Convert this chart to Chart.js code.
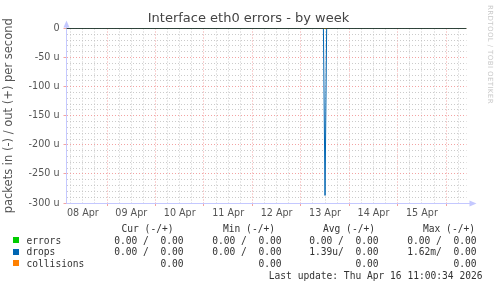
<!DOCTYPE html>
<html>
<head>
<meta charset="utf-8">
<script src="https://cdn.jsdelivr.net/npm/chart.js@4/dist/chart.umd.min.js"></script>
<style>
html, body { margin: 0; padding: 0; background: #fff; }
#wrap { position: relative; width: 497px; height: 288px; overflow: hidden; font-family: "DejaVu Sans", sans-serif; }
#chart { position: absolute; left: 0; top: 0; }
.title { position: absolute; left: 0; top: 10px; width: 497px; text-align: center; font-size: 13px; color: #444; }
.brand { position: absolute; left: 486px; top: 5px; writing-mode: vertical-rl; font-size: 7px; color: #c8c8c8; letter-spacing: 0.4px; }
.leg { position: absolute; font-family: "DejaVu Sans Mono", monospace; font-size: 9.6px; color: #333; white-space: pre; line-height: 11px; }
.sq { position: absolute; width: 6px; height: 6px; }
</style>
</head>
<body>
<div id="wrap">
  <canvas id="chart" width="497" height="288"></canvas>
  <div class="title">Interface eth0 errors - by week</div>
  <div class="brand">RRDTOOL / TOBI OETIKER</div>
</div>
<script>
// hours since 08 Apr 00:00
const xMin = 3.9;
const xMax = 202.1;
const dayLabels = ['08 Apr', '09 Apr', '10 Apr', '11 Apr', '12 Apr', '13 Apr', '14 Apr', '15 Apr'];

// values in micro packets per second (u)
const flatTimes = [3.9, 202.1];
const flatValues = [0, 0];
const dropsTimes = [3.9, 131.2, 132.0, 132.8, 202.1];
const dropsInValues = [0, 0, -287, 0, 0];

// legend table
const legendNames = ['errors', 'drops', 'collisions'];
const legendColors = ['#00cc00', '#0066b3', '#ff8000'];
const colHeaders = ['Cur (-/+)', 'Min (-/+)', 'Avg (-/+)', 'Max (-/+)'];
const curVals = ['0.00 /  0.00', '0.00 /  0.00', '0.00'];
const minVals = ['0.00 /  0.00', '0.00 /  0.00', '0.00'];
const avgVals = ['0.00 /  0.00', '1.39u/  0.00', '0.00'];
const maxVals = ['0.00 /  0.00', '1.62m/  0.00', '0.00'];
const lastUpdate = 'Last update: Thu Apr 16 11:00:34 2026';

const AXIS = 'rgb(196,200,255)';
const MAJOR = 'rgba(240,140,140,0.8)';
const MINOR = 'rgba(190,190,190,0.8)';

const pts = (xs, ys) => xs.map((x, i) => ({ x: x, y: ys[i] }));

const lineDs = (label, color, data) => ({
    label: label,
    data: data,
    borderColor: color,
    borderWidth: 1,
    pointRadius: 0,
    tension: 0,
    fill: false
});

const axisArrows = {
    id: 'axisArrows',
    beforeDatasetsDraw(chart) {
        const { ctx, chartArea: a } = chart;
        const lx = a.left;
        const by = a.bottom + 0.5;
        ctx.save();
        ctx.strokeStyle = AXIS;
        ctx.fillStyle = AXIS;
        ctx.lineWidth = 1;
        ctx.beginPath();
        ctx.moveTo(lx, by);
        ctx.lineTo(lx, a.top - 2);
        ctx.moveTo(lx, by);
        ctx.lineTo(a.right + 4, by);
        ctx.stroke();
        ctx.beginPath();
        ctx.moveTo(lx, a.top - 8);
        ctx.lineTo(lx - 3, a.top - 1);
        ctx.lineTo(lx + 3, a.top - 1);
        ctx.closePath();
        ctx.fill();
        ctx.beginPath();
        ctx.moveTo(a.right + 10, by);
        ctx.lineTo(a.right + 3, by - 3);
        ctx.lineTo(a.right + 3, by + 3);
        ctx.closePath();
        ctx.fill();
        ctx.restore();
    }
};

new Chart(document.getElementById('chart'), {
    type: 'line',
    data: {
        datasets: [
            lineDs('zero', '#000000', pts(flatTimes, flatValues)),
            lineDs('drops', '#0066b3', pts(dropsTimes, dropsInValues)),
            lineDs('collisions', '#ff8000', pts(flatTimes, flatValues)),
            lineDs('errors', '#00cc00', pts(flatTimes, flatValues))
        ]
    },
    options: {
        responsive: false,
        animation: false,
        devicePixelRatio: 1,
        layout: { padding: { left: 0, right: 30.5, top: 28.5, bottom: 65 } },
        plugins: { legend: { display: false }, tooltip: { enabled: false } },
        scales: {
            x: {
                type: 'linear',
                min: xMin,
                max: xMax,
                afterFit(scale) { scale.height = 20; },
                afterBuildTicks(scale) {
                    const t = [];
                    for (let h = 6; h < xMax; h += 6) t.push({ value: h });
                    scale.ticks = t;
                },
                border: { display: false, dash: [1, 2] },
                grid: {
                    color: c => (Math.round(c.tick.value) % 24 === 0 ? MAJOR : MINOR),
                    tickColor: c => (Math.round(c.tick.value) % 24 === 0 ? MAJOR : 'rgba(0,0,0,0)'),
                    tickLength: 3
                },
                ticks: {
                    autoSkip: false,
                    maxRotation: 0,
                    padding: 2,
                    color: '#555',
                    font: { family: 'DejaVu Sans', size: 9.6 },
                    callback: v => (Math.round(v) % 24 === 12 ? dayLabels[Math.floor(v / 24)] : '')
                }
            },
            y: {
                min: -300,
                max: 0,
                afterFit(scale) { scale.width = 66.5; },
                border: { display: false, dash: [1, 2] },
                grid: {
                    color: c => (Math.round(c.tick.value) % 50 === 0 ? MAJOR : MINOR),
                    tickColor: c => (Math.round(c.tick.value) % 50 === 0 ? MAJOR : 'rgba(0,0,0,0)'),
                    tickLength: 3
                },
                ticks: {
                    stepSize: 10,
                    autoSkip: false,
                    padding: 4,
                    color: '#555',
                    font: { family: 'DejaVu Sans', size: 9.6 },
                    callback: v => (Math.round(v) % 50 === 0 ? (v === 0 ? '0' : v + ' u') : '')
                },
                title: {
                    display: true,
                    text: 'packets in (-) / out (+) per second',
                    color: '#555',
                    font: { family: 'DejaVu Sans', size: 11.5 },
                    padding: { top: 2, bottom: 0 }
                }
            }
        }
    },
    plugins: [axisArrows]
});

// legend table below the plot
const wrap = document.getElementById('wrap');
function cell(text, right, yc) {
    const s = document.createElement('div');
    s.className = 'leg';
    s.textContent = text;
    s.style.right = (497 - right) + 'px';
    s.style.top = (yc - 5.5) + 'px';
    wrap.appendChild(s);
}
const headerRights = [173.5, 275, 375, 475];
const valueRights = [183.5, 281.5, 378.5, 476.5];
const rowY = [240, 251.7, 263.3];
colHeaders.forEach((h, i) => cell(h, headerRights[i], 228));
legendNames.forEach((name, r) => {
    const sq = document.createElement('div');
    sq.className = 'sq';
    sq.style.left = '13px';
    sq.style.top = (rowY[r] - 3) + 'px';
    sq.style.background = legendColors[r];
    wrap.appendChild(sq);
    const n = document.createElement('div');
    n.className = 'leg';
    n.textContent = name;
    n.style.left = '26.5px';
    n.style.top = (rowY[r] - 5.5) + 'px';
    wrap.appendChild(n);
    [curVals, minVals, avgVals, maxVals].forEach((vals, c) => cell(vals[r], valueRights[c], rowY[r]));
});
cell(lastUpdate, 482.5, 275.7);
</script>
</body>
</html>
